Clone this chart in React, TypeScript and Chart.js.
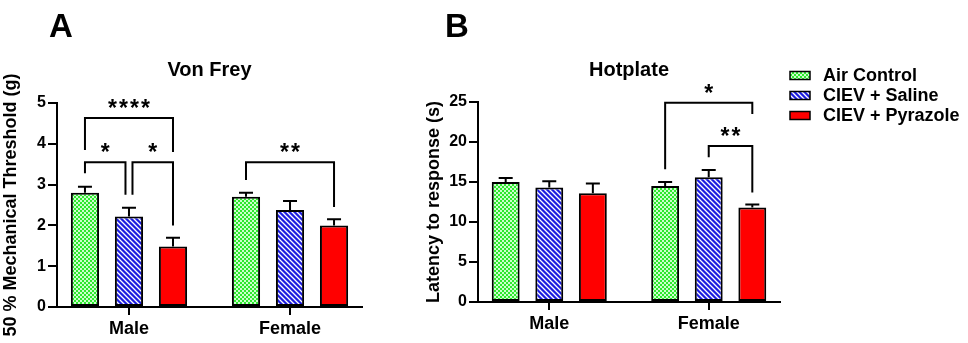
import React, { useEffect, useRef } from 'react';
import { Chart, registerables } from 'chart.js';

Chart.register(...registerables);

// ---------- data ----------
const categories = ['Male', 'Female'];
const seriesNames = ['Air Control', 'CIEV + Saline', 'CIEV + Pyrazole'];

// Von Frey (50 % mechanical threshold, g): mean and mean+SEM
const vonFreyAir = [2.8, 2.7];
const vonFreyAirErr = [2.95, 2.8];
const vonFreySaline = [2.22, 2.38];
const vonFreySalineErr = [2.43, 2.6];
const vonFreyPyrazole = [1.48, 2.0];
const vonFreyPyrazoleErr = [1.7, 2.15];

// Hotplate (latency to response, s): mean and mean+SEM
const hotAir = [15.0, 14.5];
const hotAirErr = [15.5, 15.0];
const hotSaline = [14.3, 15.6];
const hotSalineErr = [15.1, 16.5];
const hotPyrazole = [13.6, 11.8];
const hotPyrazoleErr = [14.8, 12.2];

const vonFreyTicks = [0, 1, 2, 3, 4, 5];
const hotTicks = [0, 5, 10, 15, 20, 25];

// significance brackets: [category, fromSeries, toSeries, topValue, leftLegEnd, rightLegEnd, label]
const vonFreyBrackets: any[] = [
  [0, 0, 2, 4.63, 3.85, 3.8, '****'],
  [0, 0, 1, 3.55, 3.28, 2.75, '*'],
  [0, 1, 2, 3.55, 2.75, 2.0, '*'],
  [1, 0, 2, 3.55, 3.11, 2.45, '**'],
];
const hotBrackets: any[] = [
  [1, 0, 2, 24.9, 16.6, 23.5, '*'],
  [1, 1, 2, 19.5, 18.1, 13.7, '**'],
];

// ---------- styling ----------
const FONT = '"Liberation Sans", Arial, Helvetica, sans-serif';

function makeChecker(): CanvasPattern {
  const c = document.createElement('canvas');
  c.width = 4; c.height = 4;
  const g = c.getContext('2d')!;
  g.fillStyle = '#2ee82e';
  g.fillRect(0, 0, 4, 4);
  g.fillStyle = '#ccffcc';
  g.fillRect(0, 0, 2, 2);
  g.fillRect(2, 2, 2, 2);
  return g.createPattern(c, 'repeat')!;
}

function makeStripes(): CanvasPattern {
  const s = 5;
  const c = document.createElement('canvas');
  c.width = s; c.height = s;
  const g = c.getContext('2d')!;
  g.fillStyle = '#1c1ce0';
  g.fillRect(0, 0, s, s);
  g.strokeStyle = '#ffffff';
  g.lineWidth = 1.3;
  g.beginPath();
  g.moveTo(-1, -1); g.lineTo(s + 1, s + 1);
  g.moveTo(-1, s - 1); g.lineTo(1, s + 1);
  g.moveTo(s - 1, -1); g.lineTo(s + 1, 1);
  g.stroke();
  return g.createPattern(c, 'repeat')!;
}

type PanelSpec = {
  letter: string;
  letterX: number;
  title: string;
  yTitle: string;
  yMax: number;
  yTicks: number[];
  series: number[][];
  errors: number[][];
  brackets: any[];
  padLeft: number;
  yWidth: number;
  padRight: number;
  padTop: number;
  xHeight: number;
  legend: boolean;
  legendX: number;
};

function makePlugin(spec: PanelSpec, fills: any[]) {
  return {
    id: 'annot' + spec.letter,
    afterDatasetsDraw(chart: any) {
      const ctx: CanvasRenderingContext2D = chart.ctx;
      const y = chart.scales.y;
      ctx.save();
      ctx.strokeStyle = '#000';
      ctx.lineWidth = 2;
      ctx.lineJoin = 'miter';
      ctx.lineCap = 'butt';
      // error bars
      spec.errors.forEach((errArr, di) => {
        const meta = chart.getDatasetMeta(di);
        meta.data.forEach((bar: any, i: number) => {
          const yt = y.getPixelForValue(errArr[i]);
          ctx.beginPath();
          ctx.moveTo(bar.x, bar.y);
          ctx.lineTo(bar.x, yt);
          ctx.moveTo(bar.x - 7, yt);
          ctx.lineTo(bar.x + 7, yt);
          ctx.stroke();
        });
      });
      // brackets
      const xOf = (di: number, cat: number) => chart.getDatasetMeta(di).data[cat].x;
      spec.brackets.forEach((b) => {
        const [cat, a, c, top, le, re, label] = b;
        let xl = xOf(a, cat);
        let xr = xOf(c, cat);
        spec.brackets.forEach((o) => {
          if (o !== b && o[0] === cat && o[3] === top) {
            if (o[1] === c) xr -= 3.5;
            if (o[2] === a) xl += 3.5;
          }
        });
        const yt = y.getPixelForValue(top);
        ctx.beginPath();
        ctx.moveTo(xl, y.getPixelForValue(le));
        ctx.lineTo(xl, yt);
        ctx.lineTo(xr, yt);
        ctx.lineTo(xr, y.getPixelForValue(re));
        ctx.stroke();
        ctx.fillStyle = '#000';
        ctx.font = 'bold 23px ' + FONT;
        ctx.textAlign = 'center';
        ctx.textBaseline = 'alphabetic';
        const n = label.length;
        const cx = (xl + xr) / 2;
        for (let k = 0; k < n; k++) {
          ctx.fillText('*', cx + (k - (n - 1) / 2) * 11, yt - 14 + 12);
        }
      });
      ctx.restore();
    },
    afterDraw(chart: any) {
      const ctx: CanvasRenderingContext2D = chart.ctx;
      const area = chart.chartArea;
      ctx.save();
      ctx.fillStyle = '#000';
      ctx.textBaseline = 'alphabetic';
      ctx.textAlign = 'left';
      ctx.font = 'bold 33px ' + FONT;
      ctx.fillText(spec.letter, spec.letterX, 37);
      ctx.textAlign = 'center';
      ctx.font = 'bold 20px ' + FONT;
      ctx.fillText(spec.title, (area.left + area.right) / 2, 76);
      if (spec.legend) {
        const rows = [75.5, 95.5, 115.5];
        seriesNames.forEach((name, i) => {
          const sy = rows[i];
          ctx.fillStyle = fills[i];
          ctx.fillRect(spec.legendX, sy - 4, 20, 8);
          ctx.strokeStyle = '#000';
          ctx.lineWidth = 1.5;
          ctx.strokeRect(spec.legendX, sy - 4, 20, 8);
          ctx.fillStyle = '#000';
          ctx.font = 'bold 18px ' + FONT;
          ctx.textAlign = 'left';
          ctx.textBaseline = 'middle';
          ctx.fillText(name, spec.legendX + 33, sy + 1);
        });
      }
      ctx.restore();
    },
  };
}

function buildChart(canvas: HTMLCanvasElement, spec: PanelSpec) {
  const fills = [makeChecker(), makeStripes(), '#ff0000'];
  const datasets = spec.series.map((vals, di) => ({
    label: seriesNames[di],
    data: categories.map((_, i) => ({ x: i, y: vals[i] })),
    backgroundColor: fills[di],
    borderColor: '#000',
    borderWidth: 2,
    borderSkipped: false,
    categoryPercentage: 0.82,
    barPercentage: 0.64,
  }));
  return new Chart(canvas, {
    type: 'bar',
    data: { datasets } as any,
    plugins: [makePlugin(spec, fills)],
    options: {
      animation: false,
      responsive: false,
      layout: { padding: { left: spec.padLeft, right: spec.padRight, top: spec.padTop, bottom: 0 } },
      plugins: { legend: { display: false }, tooltip: { enabled: false }, title: { display: false } },
      scales: {
        x: {
          type: 'linear',
          offset: false,
          min: -0.447,
          max: 1.447,
          afterBuildTicks: (s: any) => {
            s.ticks = categories.map((_, i) => ({ value: i }));
          },
          afterFit: (s: any) => { s.height = spec.xHeight; },
          ticks: {
            callback: (v: any) => categories[v] ?? '',
            color: '#000',
            font: { family: FONT, size: 18, weight: 'bold' },
            padding: 3,
            maxRotation: 0,
          },
          grid: { offset: false, drawOnChartArea: false, drawTicks: true, tickLength: 8, color: '#000', lineWidth: 2 },
          border: { display: true, color: '#000', width: 2 },
        },
        y: {
          type: 'linear',
          min: 0,
          max: spec.yMax,
          afterBuildTicks: (s: any) => {
            s.ticks = spec.yTicks.map((v) => ({ value: v }));
          },
          afterFit: (s: any) => { s.width = spec.yWidth; },
          ticks: {
            color: '#000',
            font: { family: FONT, size: 16, weight: 'bold' },
            padding: 2,
          },
          grid: { drawOnChartArea: false, drawTicks: true, tickLength: 9, color: '#000', lineWidth: 2 },
          border: { display: true, color: '#000', width: 2 },
          title: {
            display: true,
            text: spec.yTitle,
            color: '#000',
            font: { family: FONT, size: 18, weight: 'bold' },
            padding: { top: 0, bottom: 0 },
          },
        },
      },
    } as any,
  });
}

export default function App() {
  const refA = useRef<HTMLCanvasElement>(null);
  const refB = useRef<HTMLCanvasElement>(null);

  useEffect(() => {
    const a = buildChart(refA.current!, {
      letter: 'A',
      letterX: 49,
      title: 'Von Frey',
      yTitle: '50 % Mechanical Threshold (g)',
      yMax: 5,
      yTicks: vonFreyTicks,
      series: [vonFreyAir, vonFreySaline, vonFreyPyrazole],
      errors: [vonFreyAirErr, vonFreySalineErr, vonFreyPyrazoleErr],
      brackets: vonFreyBrackets,
      padLeft: 0,
      yWidth: 57,
      padRight: 8,
      padTop: 103,
      xHeight: 36,
      legend: false,
      legendX: 0,
    });
    const b = buildChart(refB.current!, {
      letter: 'B',
      letterX: 75,
      title: 'Hotplate',
      yTitle: 'Latency to response (s)',
      yMax: 25,
      yTicks: hotTicks,
      series: [hotAir, hotSaline, hotPyrazole],
      errors: [hotAirErr, hotSalineErr, hotPyrazoleErr],
      brackets: hotBrackets,
      padLeft: 53,
      yWidth: 55,
      padRight: 188,
      padTop: 102,
      xHeight: 41,
      legend: true,
      legendX: 420,
    });
    return () => {
      a.destroy();
      b.destroy();
    };
  }, []);

  return (
    <div style={{ position: 'absolute', left: 0, top: 0, width: 968, height: 343, background: '#fff', overflow: 'hidden' }}>
      <canvas ref={refA} width={370} height={343} style={{ position: 'absolute', left: 0, top: 0 }} />
      <canvas ref={refB} width={598} height={343} style={{ position: 'absolute', left: 370, top: 0 }} />
    </div>
  );
}
